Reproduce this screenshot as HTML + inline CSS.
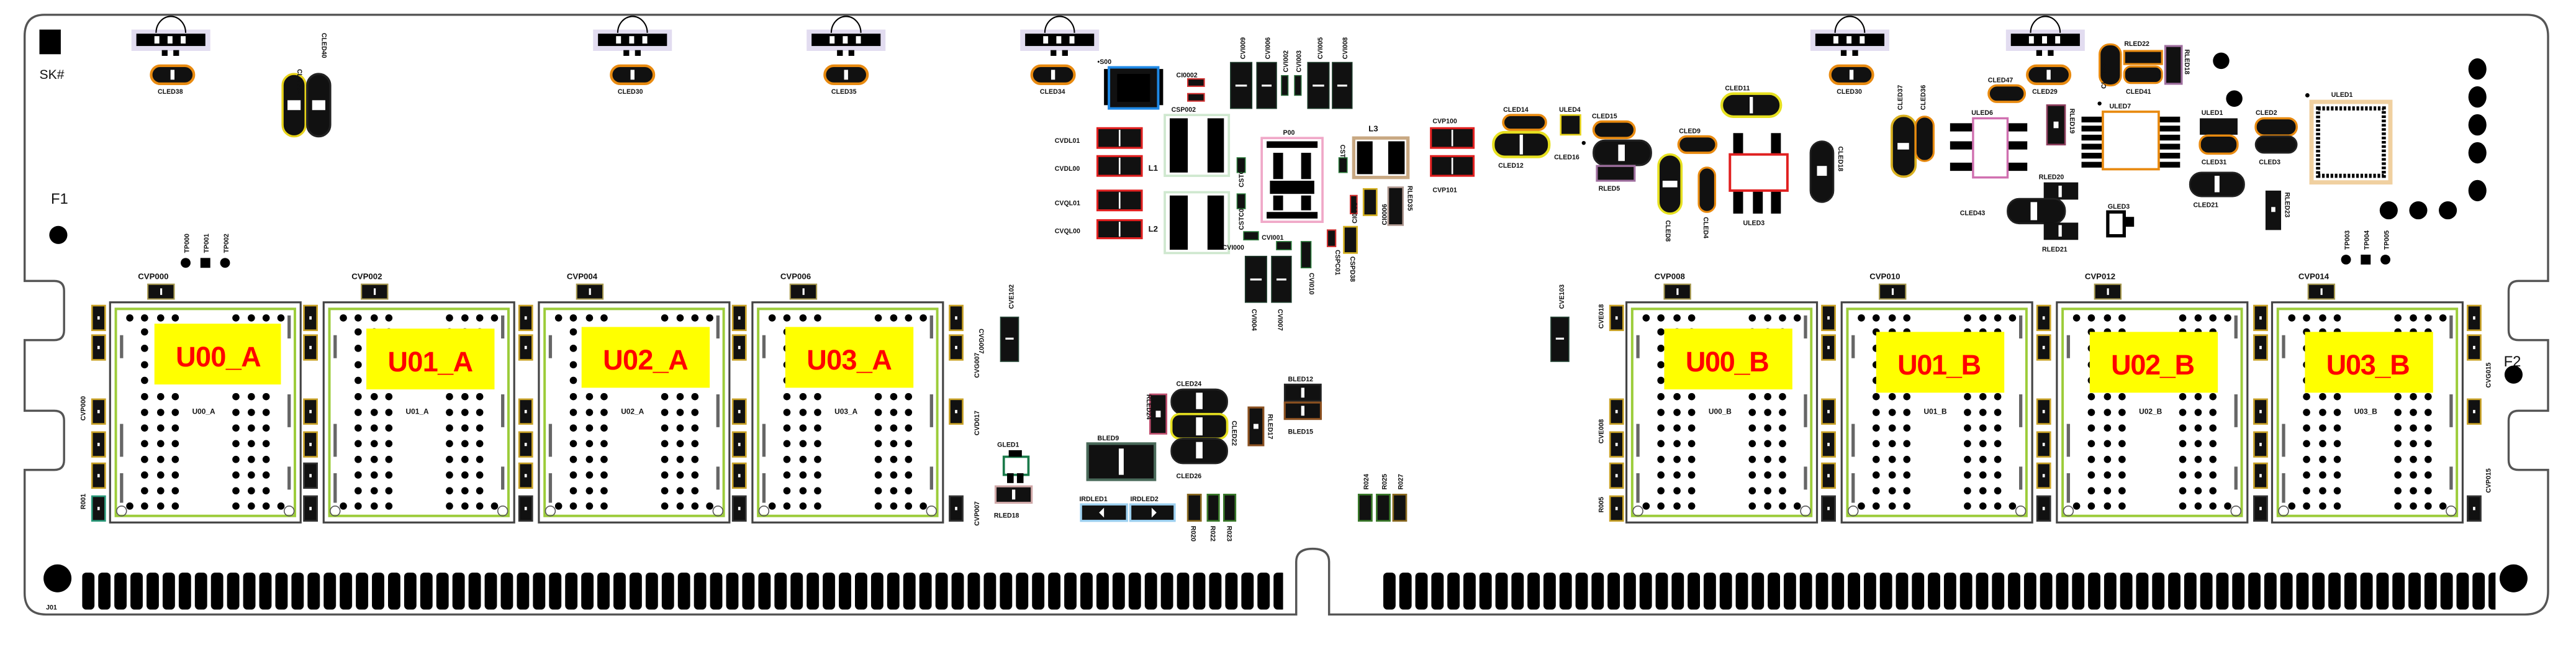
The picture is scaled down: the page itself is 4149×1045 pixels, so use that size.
<!DOCTYPE html>
<html><head><meta charset="utf-8"><style>
html,body{margin:0;padding:0;background:#fff;width:4149px;height:1045px;overflow:hidden}
svg{display:block}
text{font-family:"Liberation Sans Narrow","Liberation Sans",sans-serif;font-weight:bold;fill:#111}
.t{font-size:5px}
.s{font-size:4px}
.lb{font-size:17px;fill:#ff0000;font-family:"Liberation Sans",sans-serif;font-weight:bold}
</style></head><body>
<svg width="4149" height="1045" viewBox="0 0 1568 395" preserveAspectRatio="none" xmlns="http://www.w3.org/2000/svg">
<defs>
<pattern id="pin1" x="50" y="0" width="9.8" height="395" patternUnits="userSpaceOnUse"><rect x="0" y="348.5" width="7.5" height="22.5" rx="2.5" fill="#000"/></pattern>
<pattern id="pin2" x="842" y="0" width="9.75" height="395" patternUnits="userSpaceOnUse"><rect x="0" y="348.5" width="7.5" height="22.5" rx="2.5" fill="#000"/></pattern>
<g id="chip">
<rect x="0" y="0" width="116" height="134" fill="#fff" stroke="#444" stroke-width="1.2"/>
<rect x="3.5" y="4" width="109" height="126" fill="none" stroke="#9ccc3a" stroke-width="1.5"/>
<circle cx="7" cy="127" r="3" fill="none" stroke="#555" stroke-width=".6"/>
<circle cx="109" cy="127" r="3" fill="none" stroke="#555" stroke-width=".6"/>
<g fill="#000">
<circle cx="12" cy="9.5" r="2.2"/><circle cx="21" cy="9.5" r="2.2"/><circle cx="30.8" cy="9.5" r="2.2"/><circle cx="39.7" cy="9.5" r="2.2"/><circle cx="76.6" cy="9.5" r="2.2"/><circle cx="86" cy="9.5" r="2.2"/><circle cx="95" cy="9.5" r="2.2"/><circle cx="104" cy="9.5" r="2.2"/>
<circle cx="21" cy="18" r="2.2"/><circle cx="30.8" cy="18" r="2.2"/><circle cx="39.7" cy="18" r="2.2"/><circle cx="76.6" cy="18" r="2.2"/><circle cx="86" cy="18" r="2.2"/><circle cx="95" cy="18" r="2.2"/>
<circle cx="21" cy="28" r="2.2"/><circle cx="21" cy="38" r="2.2"/><circle cx="21" cy="47.5" r="2.2"/>
<circle cx="21" cy="57.4" r="2.2"/><circle cx="30.8" cy="57.4" r="2.2"/><circle cx="39.7" cy="57.4" r="2.2"/><circle cx="76.6" cy="57.4" r="2.2"/><circle cx="86" cy="57.4" r="2.2"/><circle cx="95" cy="57.4" r="2.2"/>
<circle cx="21" cy="67" r="2.2"/><circle cx="30.8" cy="67" r="2.2"/><circle cx="39.7" cy="67" r="2.2"/><circle cx="76.6" cy="67" r="2.2"/><circle cx="86" cy="67" r="2.2"/><circle cx="95" cy="67" r="2.2"/>
<circle cx="21" cy="76.5" r="2.2"/><circle cx="30.8" cy="76.5" r="2.2"/><circle cx="39.7" cy="76.5" r="2.2"/><circle cx="76.6" cy="76.5" r="2.2"/><circle cx="86" cy="76.5" r="2.2"/><circle cx="95" cy="76.5" r="2.2"/>
<circle cx="21" cy="86" r="2.2"/><circle cx="30.8" cy="86" r="2.2"/><circle cx="39.7" cy="86" r="2.2"/><circle cx="76.6" cy="86" r="2.2"/><circle cx="86" cy="86" r="2.2"/><circle cx="95" cy="86" r="2.2"/>
<circle cx="21" cy="95.6" r="2.2"/><circle cx="30.8" cy="95.6" r="2.2"/><circle cx="39.7" cy="95.6" r="2.2"/><circle cx="76.6" cy="95.6" r="2.2"/><circle cx="86" cy="95.6" r="2.2"/><circle cx="95" cy="95.6" r="2.2"/>
<circle cx="21" cy="105.1" r="2.2"/><circle cx="30.8" cy="105.1" r="2.2"/><circle cx="39.7" cy="105.1" r="2.2"/><circle cx="76.6" cy="105.1" r="2.2"/><circle cx="86" cy="105.1" r="2.2"/><circle cx="95" cy="105.1" r="2.2"/>
<circle cx="21" cy="114.7" r="2.2"/><circle cx="30.8" cy="114.7" r="2.2"/><circle cx="39.7" cy="114.7" r="2.2"/><circle cx="76.6" cy="114.7" r="2.2"/><circle cx="86" cy="114.7" r="2.2"/><circle cx="95" cy="114.7" r="2.2"/>
<circle cx="12" cy="124" r="2.2"/><circle cx="21" cy="124" r="2.2"/><circle cx="30.8" cy="124" r="2.2"/><circle cx="39.7" cy="124" r="2.2"/><circle cx="76.6" cy="124" r="2.2"/><circle cx="86" cy="124" r="2.2"/><circle cx="95" cy="124" r="2.2"/><circle cx="104" cy="124" r="2.2"/>
</g>
<g fill="#666"><rect x="6" y="20" width="2" height="14"/><rect x="108" y="8" width="2" height="14"/><rect x="6" y="74" width="2" height="20"/><rect x="108" y="56" width="2" height="20"/><rect x="6" y="104" width="2" height="18"/><rect x="108" y="100" width="2" height="14"/></g>
</g>
<g id="pv"><rect x="0" y="0" width="8" height="15" fill="#111" stroke="#c9a227" stroke-width="1"/><rect x="3.3" y="6.5" width="1.4" height="2" fill="#fff"/></g>
<g id="pt"><rect x="0" y="0" width="8" height="15" fill="#111" stroke="#2a9a7a" stroke-width="1"/><rect x="3.3" y="6.5" width="1.4" height="2" fill="#fff"/></g>
<g id="pk"><rect x="0" y="0" width="8" height="15" fill="#111" stroke="#333" stroke-width="1"/><rect x="3.3" y="6.5" width="1.4" height="2" fill="#fff"/></g>
<g id="ph"><rect x="0" y="0" width="16" height="9" fill="#111" stroke="#a89a50" stroke-width=".8"/><rect x="7.5" y="2.5" width="1.2" height="4" fill="#fff"/></g>
<g id="hold">
<rect x="-24" y="-10" width="48" height="13" fill="#e2dcf0"/>
<rect x="-21" y="-7.5" width="42" height="7.5" fill="#000"/>
<rect x="-10" y="-6" width="3" height="4.5" fill="#fff"/><rect x="-2" y="-6" width="3" height="4.5" fill="#fff"/><rect x="6" y="-6" width="3" height="4.5" fill="#fff"/>
<path d="M-9,-8 A9,10 0 0 1 9,-8" fill="none" stroke="#000" stroke-width=".8"/>
<rect x="-5.5" y="2.5" width="3.5" height="3.5" fill="#000"/><rect x="1.5" y="2.5" width="3.5" height="3.5" fill="#000"/>
</g>
<g id="op"><rect x="-13" y="-5.5" width="26" height="11" rx="5.5" fill="#111" stroke="#e88a10" stroke-width="1.6"/><rect x="-1.2" y="-3" width="2.4" height="6" fill="#fff"/></g>
</defs>

<path d="M27,9 H1538 Q1551,9 1551,22 V171 H1533 Q1527,171 1527,177 V201 Q1527,207 1533,207 H1551 V250 H1533 Q1527,250 1527,256 V280 Q1527,286 1533,286 H1551 V360 Q1551,374 1537,374 H809 V342 Q809,334 799,334 Q789,334 789,342 V374 H28 Q15,374 15,361 V286 H33 Q39,286 39,280 V256 Q39,250 33,250 H15 V207 H33 Q39,207 39,201 V177 Q39,171 33,171 H15 V22 Q15,9 27,9 Z" fill="#fff" stroke="#555" stroke-width="1.3"/>

<rect x="50" y="348" width="731" height="24" fill="url(#pin1)"/>
<rect x="842" y="348" width="677" height="24" fill="url(#pin2)"/>
<circle cx="35" cy="352" r="8.5" fill="#000"/>
<circle cx="1530" cy="352" r="8.5" fill="#000"/>
<text class="s" x="28" y="371">J01</text>

<rect x="24" y="18" width="13" height="15" fill="#000"/>
<text x="24" y="48" style="font-size:8px;font-weight:normal">SK#</text>
<text x="31" y="124" style="font-size:9px;font-weight:normal">F1</text>
<circle cx="35.5" cy="143" r="5.5" fill="#000"/>
<text x="1524" y="223" style="font-size:9px;font-weight:normal">F2</text>
<circle cx="1530" cy="228" r="5.5" fill="#000"/>

<use href="#hold" x="104" y="28"/><use href="#hold" x="385" y="28"/><use href="#hold" x="515" y="28"/><use href="#hold" x="645" y="28"/><use href="#hold" x="1126" y="28"/><use href="#hold" x="1245" y="28"/>
<use href="#op" x="105" y="45.5"/><text class="s" x="96" y="57">CLED38</text>
<use href="#op" x="385" y="45.5"/><text class="s" x="376" y="57">CLED30</text>
<use href="#op" x="515" y="45.5"/><text class="s" x="506" y="57">CLED35</text>
<use href="#op" x="641" y="45.5"/><text class="s" x="633" y="57">CLED34</text>
<use href="#op" x="1127" y="45.5"/><text class="s" x="1118" y="57">CLED30</text>
<use href="#op" x="1247" y="45.5"/><text class="s" x="1237" y="57">CLED29</text>

<rect x="172" y="45" width="14" height="38" rx="7" fill="#111" stroke="#e6d21a" stroke-width="1.3"/>
<rect x="175" y="61" width="8" height="6" fill="#fff"/>
<rect x="187" y="45" width="14" height="38" rx="7" fill="#111" stroke="#222" stroke-width="1.3"/>
<rect x="190" y="61" width="8" height="6" fill="#fff"/>
<text class="s" transform="translate(181,42) rotate(90)" >CLED31</text>
<text class="s" transform="translate(196,20) rotate(90)">CLED40</text>

<circle cx="113" cy="160" r="3" fill="#000"/><rect x="122" y="157" width="6" height="6" fill="#000"/><circle cx="137" cy="160" r="3" fill="#000"/>
<text class="s" transform="translate(115,154) rotate(-90)">TP000</text>
<text class="s" transform="translate(127,154) rotate(-90)">TP001</text>
<text class="s" transform="translate(139,154) rotate(-90)">TP002</text>
<circle cx="1428" cy="158" r="3" fill="#000"/><rect x="1437" y="155" width="6" height="6" fill="#000"/><circle cx="1452" cy="158" r="3" fill="#000"/>
<text class="s" transform="translate(1430,152) rotate(-90)">TP003</text>
<text class="s" transform="translate(1442,152) rotate(-90)">TP004</text>
<text class="s" transform="translate(1454,152) rotate(-90)">TP005</text>

<use href="#chip" x="67" y="184"/><use href="#chip" x="197" y="184"/><use href="#chip" x="328" y="184"/><use href="#chip" x="458" y="184"/>
<use href="#chip" x="990" y="184"/><use href="#chip" x="1121" y="184"/><use href="#chip" x="1252" y="184"/><use href="#chip" x="1383" y="184"/>

<rect x="94" y="197" width="77" height="37" fill="#ffff00"/><text class="lb" x="107" y="223" textLength="52">U00_A</text>
<rect x="223" y="200" width="78" height="37" fill="#ffff00"/><text class="lb" x="236" y="226" textLength="52">U01_A</text>
<rect x="354" y="199" width="78" height="37" fill="#ffff00"/><text class="lb" x="367" y="225" textLength="52">U02_A</text>
<rect x="478" y="199" width="78" height="37" fill="#ffff00"/><text class="lb" x="491" y="225" textLength="52">U03_A</text>
<rect x="1013" y="200" width="78" height="37" fill="#ffff00"/><text class="lb" x="1026" y="226" textLength="51">U00_B</text>
<rect x="1142" y="202" width="78" height="37" fill="#ffff00"/><text class="lb" x="1155" y="228" textLength="51">U01_B</text>
<rect x="1272" y="202" width="78" height="37" fill="#ffff00"/><text class="lb" x="1285" y="228" textLength="51">U02_B</text>
<rect x="1403" y="202" width="78" height="37" fill="#ffff00"/><text class="lb" x="1416" y="228" textLength="51">U03_B</text>

<g style="font-size:4.5px">
<text x="117" y="252">U00_A</text><text x="247" y="252">U01_A</text><text x="378" y="252">U02_A</text><text x="508" y="252">U03_A</text>
<text x="1040" y="252">U00_B</text><text x="1171" y="252">U01_B</text><text x="1302" y="252">U02_B</text><text x="1433" y="252">U03_B</text>
</g>

<use href="#ph" x="90" y="173"/><text class="t" x="84" y="170">CVP000</text>
<use href="#ph" x="220" y="173"/><text class="t" x="214" y="170">CVP002</text>
<use href="#ph" x="351" y="173"/><text class="t" x="345" y="170">CVP004</text>
<use href="#ph" x="481" y="173"/><text class="t" x="475" y="170">CVP006</text>
<use href="#ph" x="1013" y="173"/><text class="t" x="1007" y="170">CVP008</text>
<use href="#ph" x="1144" y="173"/><text class="t" x="1138" y="170">CVP010</text>
<use href="#ph" x="1275" y="173"/><text class="t" x="1269" y="170">CVP012</text>
<use href="#ph" x="1405" y="173"/><text class="t" x="1399" y="170">CVP014</text>

<g>
<use href="#pv" x="56" y="186"/><use href="#pv" x="56" y="204"/><use href="#pv" x="56" y="243"/><use href="#pv" x="56" y="263"/><use href="#pv" x="56" y="282"/><use href="#pt" x="56" y="302"/>
<use href="#pv" x="185" y="186"/><use href="#pv" x="185" y="204"/><use href="#pv" x="185" y="243"/><use href="#pv" x="185" y="263"/><use href="#pk" x="185" y="282"/><use href="#pk" x="185" y="302"/>
<use href="#pv" x="316" y="186"/><use href="#pv" x="316" y="204"/><use href="#pv" x="316" y="243"/><use href="#pv" x="316" y="263"/><use href="#pv" x="316" y="282"/><use href="#pk" x="316" y="302"/>
<use href="#pv" x="446" y="186"/><use href="#pv" x="446" y="204"/><use href="#pv" x="446" y="243"/><use href="#pv" x="446" y="263"/><use href="#pv" x="446" y="282"/><use href="#pk" x="446" y="302"/>
<use href="#pv" x="578" y="186"/><use href="#pv" x="578" y="204"/><use href="#pv" x="578" y="243"/><use href="#pk" x="578" y="302"/>
<use href="#pv" x="980" y="186"/><use href="#pv" x="980" y="243"/><use href="#pv" x="980" y="263"/><use href="#pv" x="980" y="282"/><use href="#pv" x="980" y="302"/>
<use href="#pv" x="1109" y="186"/><use href="#pv" x="1109" y="204"/><use href="#pv" x="1109" y="243"/><use href="#pv" x="1109" y="263"/><use href="#pv" x="1109" y="282"/><use href="#pk" x="1109" y="302"/>
<use href="#pv" x="1240" y="186"/><use href="#pv" x="1240" y="204"/><use href="#pv" x="1240" y="243"/><use href="#pv" x="1240" y="263"/><use href="#pv" x="1240" y="282"/><use href="#pk" x="1240" y="302"/>
<use href="#pv" x="1372" y="186"/><use href="#pv" x="1372" y="204"/><use href="#pv" x="1372" y="243"/><use href="#pv" x="1372" y="263"/><use href="#pv" x="1372" y="282"/><use href="#pk" x="1372" y="302"/>
<use href="#pv" x="1502" y="186"/><use href="#pv" x="1502" y="204"/><use href="#pv" x="1502" y="243"/><use href="#pk" x="1502" y="302"/>
</g>
<g class="s">
<text transform="translate(52,256) rotate(-90)">CVP000</text>
<text transform="translate(52,310) rotate(-90)">R001</text>
<text transform="translate(596,200) rotate(90)">CVG007</text>
<text transform="translate(596,230) rotate(-90)">CVG007</text>
<text transform="translate(596,265) rotate(-90)">CVD017</text>
<text transform="translate(596,320) rotate(-90)">CVP007</text>
<text transform="translate(976,200) rotate(-90)">CVE018</text>
<text transform="translate(976,270) rotate(-90)">CVE008</text>
<text transform="translate(976,312) rotate(-90)">R005</text>
<text transform="translate(1516,236) rotate(-90)">CVG015</text>
<text transform="translate(1516,300) rotate(-90)">CVP015</text>
</g>

<rect x="609" y="193" width="11" height="27" fill="#111" stroke="#2a4a3a" stroke-width=".6"/><rect x="612" y="205.5" width="5" height="1.2" fill="#fff"/>
<text class="s" transform="translate(617,188) rotate(-90)">CVE102</text>
<rect x="944" y="193" width="11" height="27" fill="#111" stroke="#2a4a3a" stroke-width=".6"/><rect x="947" y="205.5" width="5" height="1.2" fill="#fff"/>
<text class="s" transform="translate(952,188) rotate(-90)">CVE103</text>

<text class="s" x="668" y="39">•S00</text>
<rect x="672" y="42" width="3" height="22" fill="#000"/><rect x="705" y="42" width="3" height="22" fill="#000"/>
<rect x="675" y="41" width="30" height="25" fill="#111" stroke="#1e88e5" stroke-width="1.5"/>
<rect x="680" y="45" width="20" height="17" fill="#000"/>
<text class="s" x="716" y="47">CI0002</text>
<rect x="723" y="48" width="10" height="4.5" fill="#111" stroke="#d03030" stroke-width=".8"/>
<rect x="723" y="57" width="10" height="4.5" fill="#111" stroke="#d03030" stroke-width=".8"/>
<text class="s" x="713" y="68">CSP002</text>

<g fill="#111" stroke="#1d3a2a" stroke-width=".6">
<rect x="749" y="38" width="13" height="28"/><rect x="765" y="38" width="12" height="28"/><rect x="796" y="38" width="13" height="28"/><rect x="811" y="38" width="12" height="28"/>
<rect x="780" y="46" width="4" height="12" stroke="#2a6a3a"/><rect x="788" y="46" width="4" height="12" stroke="#2a6a3a"/>
<rect x="758" y="156" width="13" height="28"/><rect x="774" y="156" width="12" height="28"/>
</g>
<g fill="#fff"><rect x="752" y="51.5" width="7" height="1.2"/><rect x="768" y="51.5" width="6" height="1.2"/><rect x="799" y="51.5" width="7" height="1.2"/><rect x="814" y="51.5" width="6" height="1.2"/><rect x="761" y="169.5" width="7" height="1.2"/><rect x="777" y="169.5" width="6" height="1.2"/></g>
<g class="s">
<text transform="translate(758,36) rotate(-90)">CVI009</text>
<text transform="translate(773,36) rotate(-90)">CVI006</text>
<text transform="translate(784,44) rotate(-90)">CVI002</text>
<text transform="translate(792,44) rotate(-90)">CVI003</text>
<text transform="translate(805,36) rotate(-90)">CVI005</text>
<text transform="translate(820,36) rotate(-90)">CVI008</text>
<text transform="translate(762,188) rotate(90)">CVI004</text>
<text transform="translate(778,188) rotate(90)">CVI007</text>
<text transform="translate(797,166) rotate(90)">CVI010</text>
<text transform="translate(813,152) rotate(90)">CSPC01</text>
<text transform="translate(822,156) rotate(90)">CSPD38</text>
</g>

<rect x="709" y="70" width="39" height="37" fill="#fff" stroke="#cfe8cf" stroke-width="1.4"/>
<rect x="712" y="72" width="11" height="33" fill="#000"/><rect x="735" y="72" width="10" height="33" fill="#000"/>
<rect x="709" y="117" width="39" height="37" fill="#fff" stroke="#cfe8cf" stroke-width="1.4"/>
<rect x="712" y="119" width="11" height="33" fill="#000"/><rect x="735" y="119" width="10" height="33" fill="#000"/>
<text class="t" x="699" y="104">L1</text><text class="t" x="699" y="141">L2</text>

<g fill="#111" stroke="#e02020" stroke-width="1.2">
<rect x="668" y="78" width="27" height="12"/><rect x="668" y="95" width="27" height="12"/><rect x="668" y="116" width="27" height="12"/><rect x="668" y="134" width="27" height="11"/>
<rect x="871" y="78" width="26" height="12"/><rect x="871" y="95" width="26" height="12"/>
</g>
<g fill="#fff"><rect x="681" y="79" width="1" height="10"/><rect x="681" y="96" width="1" height="10"/><rect x="681" y="117" width="1" height="10"/><rect x="681" y="135" width="1" height="9"/><rect x="883.5" y="79" width="1" height="10"/><rect x="883.5" y="96" width="1" height="10"/></g>
<g class="s"><text x="642" y="87">CVDL01</text><text x="642" y="104">CVDL00</text><text x="642" y="125">CVQL01</text><text x="642" y="142">CVQL00</text>
<text x="872" y="75">CVP100</text><text x="872" y="117">CVP101</text></g>

<text class="s" x="781" y="82">P00</text>
<rect x="768" y="84" width="37" height="51" fill="#fff" stroke="#f0a8c8" stroke-width="1.4"/>
<g fill="#000">
<rect x="771" y="86" width="31" height="4"/><rect x="771" y="129" width="31" height="4"/>
<rect x="775" y="93" width="6" height="16"/><rect x="792" y="93" width="6" height="16"/>
<rect x="773" y="110" width="27" height="8"/>
<rect x="775" y="119" width="6" height="9"/><rect x="792" y="119" width="6" height="9"/>
</g>
<g fill="#111" stroke="#2a7a3a" stroke-width=".6"><rect x="753" y="96" width="5" height="9"/><rect x="753" y="118" width="5" height="9"/><rect x="815" y="96" width="5" height="9"/><rect x="757" y="141" width="9" height="5"/><rect x="777" y="147" width="9" height="5"/><rect x="792" y="147" width="6" height="16"/></g>
<text class="s" transform="translate(757,114) rotate(-90)">CSTC00</text>
<text class="s" transform="translate(757,140) rotate(-90)">CSTC01</text>
<text class="s" transform="translate(816,88) rotate(90)">CSTC02</text>
<text class="s" x="768" y="146">CVI001</text>
<text class="s" x="744" y="152">CVI000</text>

<text class="t" x="833" y="80">L3</text>
<rect x="824" y="84" width="33" height="24" fill="#fff" stroke="#c8a882" stroke-width="2"/>
<rect x="826" y="86" width="9.5" height="20" fill="#000"/><rect x="845" y="86" width="10" height="20" fill="#000"/>
<rect x="822" y="119" width="4" height="11" fill="#111" stroke="#d03030" stroke-width=".8"/>
<rect x="830" y="115" width="8" height="16" fill="#111" stroke="#d4b020" stroke-width="1"/>
<rect x="845" y="114" width="9" height="23" fill="#111" stroke="#b09890" stroke-width="1"/>
<rect x="808" y="140" width="5" height="10" fill="#111" stroke="#d03030" stroke-width=".8"/>
<rect x="818" y="138" width="8" height="16" fill="#111" stroke="#d4b020" stroke-width="1"/>
<text class="s" transform="translate(826,136) rotate(-90)">CI0003</text>
<text class="s" transform="translate(844,137) rotate(-90)">CI0006</text>
<text class="s" transform="translate(857,113) rotate(90)">RLED35</text>

<rect x="915" y="70" width="26" height="9" rx="4.5" fill="#111" stroke="#e88a10" stroke-width="1.4"/>
<rect x="909" y="80.5" width="34" height="15" rx="7" fill="#111" stroke="#e6e020" stroke-width="1.6"/><rect x="925" y="82" width="2" height="12" fill="#fff"/>
<rect x="950" y="70" width="12" height="12" fill="#111" stroke="#e6d21a" stroke-width="1"/>
<circle cx="964" cy="87" r="1.2" fill="#000"/>
<rect x="970" y="74" width="25" height="10" rx="5" fill="#111" stroke="#e88a10" stroke-width="1.4"/>
<rect x="970" y="85.5" width="35" height="15" rx="7" fill="#111" stroke="#222" stroke-width="1.2"/><rect x="985" y="88" width="4" height="10" fill="#fff"/>
<rect x="972" y="101" width="23" height="9" fill="#111" stroke="#a070a0" stroke-width="1.2"/>
<rect x="1009.5" y="94" width="14" height="36" rx="7" fill="#111" stroke="#e6e020" stroke-width="1.4"/><rect x="1012" y="110" width="9" height="4" fill="#fff"/>
<rect x="1021.7" y="83" width="23" height="10" rx="5" fill="#111" stroke="#e88a10" stroke-width="1.4"/>
<rect x="1034" y="102" width="10" height="27" rx="5" fill="#111" stroke="#e88a10" stroke-width="1.2"/>
<rect x="1048" y="57" width="36" height="14" rx="7" fill="#111" stroke="#e6e020" stroke-width="1.6"/><rect x="1065" y="59" width="2" height="10" fill="#fff"/>
<g fill="#000"><rect x="1055" y="81" width="6" height="14"/><rect x="1078" y="81" width="6" height="14"/><rect x="1055" y="115" width="6" height="15"/><rect x="1067" y="115" width="6" height="15"/><rect x="1078" y="115" width="6" height="15"/></g>
<rect x="1053" y="94" width="35" height="22" fill="#fff" stroke="#e02020" stroke-width="1.5"/>
<rect x="1102" y="86" width="14" height="37" rx="7" fill="#111" stroke="#222" stroke-width="1"/><rect x="1106" y="101" width="6" height="6" fill="#fff"/>
<g class="s">
<text x="915" y="68">CLED14</text><text x="949" y="68">ULED4</text><text x="969" y="72">CLED15</text><text x="946" y="97">CLED16</text><text x="912" y="102">CLED12</text><text x="973" y="116">RLED5</text><text x="1022" y="81">CLED9</text><text x="1050" y="55">CLED11</text><text x="1061" y="137">ULED3</text>
<text transform="translate(1014,134) rotate(90)">CLED8</text><text transform="translate(1037,132) rotate(90)">CLED4</text><text transform="translate(1119,89) rotate(90)">CLED18</text>
<text transform="translate(1158,67) rotate(-90)">CLED37</text><text transform="translate(1172,67) rotate(-90)">CLED36</text>
</g>
<rect x="1151.5" y="70.5" width="14.5" height="37" rx="7" fill="#111" stroke="#d8b020" stroke-width="1.4"/><rect x="1155" y="87" width="7" height="4" fill="#fff"/>
<rect x="1166" y="71" width="11" height="27" rx="5.5" fill="#111" stroke="#e88a10" stroke-width="1.2"/>

<g fill="#000"><rect x="1187" y="75" width="47" height="5"/><rect x="1187" y="86" width="47" height="5"/><rect x="1187" y="99" width="47" height="5"/></g>
<rect x="1201" y="72" width="21" height="36" fill="#fff" stroke="#d070b0" stroke-width="1.3"/>
<text class="s" x="1200" y="70">ULED6</text>
<rect x="1246" y="64" width="11" height="24" fill="#111" stroke="#904060" stroke-width="1"/><rect x="1250" y="74" width="3" height="4" fill="#fff"/>
<text class="s" transform="translate(1260,66) rotate(90)">RLED19</text>
<g fill="#000"><rect x="1267" y="71" width="60" height="3.5"/><rect x="1267" y="76.5" width="60" height="3.5"/><rect x="1267" y="82" width="60" height="3.5"/><rect x="1267" y="87.5" width="60" height="3.5"/><rect x="1267" y="93" width="60" height="3.5"/><rect x="1267" y="98.5" width="60" height="3.5"/></g>
<rect x="1280" y="68" width="34" height="35" fill="#fff" stroke="#e88a10" stroke-width="1.4"/>
<circle cx="1278" cy="63" r="1.2" fill="#000"/><text class="s" x="1284" y="66">ULED7</text>
<rect x="1210.5" y="52" width="22" height="10" rx="5" fill="#111" stroke="#e88a10" stroke-width="1.4"/><text class="s" x="1210" y="50">CLED47</text>
<rect x="1278" y="27" width="13" height="25" rx="6" fill="#111" stroke="#e88a10" stroke-width="1.2"/>
<text class="s" transform="translate(1282,54) rotate(-90)">CLED45</text>
<rect x="1293" y="31" width="23" height="8" fill="#111" stroke="#e88a10" stroke-width="1.2"/>
<rect x="1293" y="40.5" width="23" height="10" rx="4" fill="#111" stroke="#e88a10" stroke-width="1.2"/>
<text class="s" x="1293" y="28">RLED22</text><text class="s" x="1294" y="57">CLED41</text>
<rect x="1318" y="28" width="10" height="23" fill="#111" stroke="#a070a0" stroke-width="1.2"/>
<text class="s" transform="translate(1330,30) rotate(90)">RLED18</text>
<circle cx="1352" cy="37" r="5" fill="#000"/><circle cx="1360" cy="60" r="5" fill="#000"/>

<text class="s" x="1340" y="70">ULED1</text>
<rect x="1339" y="72" width="23" height="10" fill="#111"/>
<rect x="1339" y="82.5" width="23" height="11" rx="5" fill="#111" stroke="#e88a10" stroke-width="1.3"/>
<text class="s" x="1340" y="100">CLED31</text>
<text class="s" x="1373" y="70">CLED2</text>
<rect x="1373" y="72" width="25" height="10.5" rx="5" fill="#111" stroke="#e88a10" stroke-width="1.3"/>
<rect x="1373" y="83" width="25" height="10" rx="5" fill="#111" stroke="#222" stroke-width="1"/>
<text class="s" x="1375" y="100">CLED3</text>
<rect x="1333" y="105" width="33" height="14.5" rx="7" fill="#111" stroke="#222" stroke-width="1"/><rect x="1348" y="107" width="3" height="10" fill="#fff"/>
<text class="s" x="1335" y="126">CLED21</text>
<rect x="1379" y="116" width="9.5" height="24" fill="#111"/><rect x="1382.5" y="126" width="2.5" height="3" fill="#fff"/>
<text class="s" transform="translate(1391,117) rotate(90)">RLED23</text>
<text class="s" x="1241" y="109">RLED20</text>
<rect x="1244" y="111" width="21" height="10.5" fill="#111"/><rect x="1253" y="113" width="2" height="7" fill="#fff"/>
<rect x="1222" y="121" width="35" height="15" rx="7" fill="#111" stroke="#222" stroke-width="1"/><rect x="1236" y="123" width="4" height="11" fill="#fff"/>
<rect x="1244" y="135.5" width="21" height="10.5" fill="#111"/><rect x="1253" y="137" width="2" height="7" fill="#fff"/>
<text class="s" x="1193" y="131">CLED43</text><text class="s" x="1243" y="153">RLED21</text>
<text class="s" x="1283" y="127">GLED3</text>
<rect x="1283" y="129" width="10" height="14.5" fill="#fff" stroke="#000" stroke-width="2"/><rect x="1293" y="132" width="6" height="6" fill="#000"/>
<text class="s" x="1419" y="59">ULED1</text>
<circle cx="1404.5" cy="58" r="1.3" fill="#000"/>
<rect x="1407" y="62" width="48" height="49" fill="#fff" stroke="#f0d0a0" stroke-width="2.6"/>
<rect x="1411" y="66" width="40" height="41" fill="none" stroke="#000" stroke-width="2.5" stroke-dasharray="1.6,1"/>
<ellipse cx="1508" cy="42" rx="5.5" ry="6.5" fill="#000"/><ellipse cx="1508" cy="59" rx="5.5" ry="6.5" fill="#000"/><ellipse cx="1508" cy="76" rx="5.5" ry="6.5" fill="#000"/><ellipse cx="1508" cy="93" rx="5.5" ry="6.5" fill="#000"/><ellipse cx="1508" cy="116" rx="5.5" ry="6.5" fill="#000"/>
<circle cx="1454" cy="128" r="5.5" fill="#000"/><circle cx="1472" cy="128" r="5.5" fill="#000"/><circle cx="1490" cy="128" r="5.5" fill="#000"/>

<text class="s" x="607" y="272">GLED1</text>
<rect x="611" y="278" width="15" height="11" fill="#fff" stroke="#1a7a4a" stroke-width="1.4"/>
<rect x="614" y="274" width="8" height="4" fill="#000"/><rect x="613" y="288" width="4" height="6" fill="#000"/><rect x="619" y="288" width="4" height="6" fill="#000"/>
<rect x="606" y="296" width="22" height="10" fill="#111" stroke="#d0a8a8" stroke-width="1.2"/><rect x="616" y="298" width="2" height="6" fill="#fff"/>
<text class="s" x="605" y="315">RLED18</text>
<text class="s" x="668" y="268">BLED9</text>
<rect x="662" y="270" width="41" height="22" fill="#111" stroke="#4a6a5a" stroke-width="1.6"/><rect x="681" y="273" width="3" height="16" fill="#fff"/>
<text class="s" x="657" y="305">IRDLED1</text><text class="s" x="688" y="305">IRDLED2</text>
<rect x="658" y="307" width="28" height="10" fill="#111" stroke="#9dd0f0" stroke-width="1.3"/><rect x="688" y="307" width="27" height="10" fill="#111" stroke="#9dd0f0" stroke-width="1.3"/>
<path d="M672,309 L669,312 L672,315 Z M701,309 L704,312 L701,315 Z" fill="#fff"/>
<text class="s" x="716" y="235">CLED24</text>
<rect x="713" y="237" width="34" height="15" rx="7" fill="#111" stroke="#222" stroke-width="1"/><rect x="728" y="239" width="4" height="10" fill="#fff"/>
<rect x="713" y="252" width="34" height="15" rx="5" fill="#111" stroke="#e6e020" stroke-width="1.4"/><rect x="728" y="254" width="4" height="11" fill="#fff"/>
<rect x="713" y="267" width="34" height="15" rx="7" fill="#111" stroke="#222" stroke-width="1"/><rect x="728" y="269" width="4" height="10" fill="#fff"/>
<text class="s" x="716" y="291">CLED26</text>
<text class="s" transform="translate(750,256) rotate(90)">CLED22</text>
<rect x="700" y="240" width="10" height="24" fill="#111" stroke="#c05070" stroke-width="1"/><rect x="703.5" y="250" width="3" height="4" fill="#fff"/>
<text class="s" transform="translate(698,240) rotate(90)">RLED24</text>
<rect x="760" y="248" width="9" height="23" fill="#111" stroke="#8a5020" stroke-width="1.2"/><rect x="763" y="258" width="3" height="3" fill="#fff"/>
<text class="s" transform="translate(772,252) rotate(90)">RLED17</text>
<text class="s" x="784" y="232">BLED12</text>
<rect x="782" y="234" width="22" height="10" fill="#111" stroke="#222" stroke-width="1"/><rect x="792" y="236" width="2" height="6" fill="#fff"/>
<rect x="782" y="245" width="22" height="10" fill="#111" stroke="#8a5020" stroke-width="1.2"/><rect x="792" y="247" width="2" height="6" fill="#fff"/>
<text class="s" x="784" y="264">BLED15</text>
<g fill="#111" stroke-width="1">
<rect x="723" y="301" width="8" height="16" stroke="#8a6a20"/><rect x="735" y="301" width="7" height="16" stroke="#3a7a2a"/><rect x="745" y="301" width="7" height="16" stroke="#3a7a2a"/>
<rect x="827" y="301" width="8" height="16" stroke="#3a7a2a"/><rect x="838" y="301" width="8" height="16" stroke="#3a7a2a"/><rect x="848" y="301" width="8" height="16" stroke="#8a6a20"/>
</g>
<g class="s">
<text transform="translate(725,320) rotate(90)">R020</text><text transform="translate(737,320) rotate(90)">R022</text><text transform="translate(747,320) rotate(90)">R023</text>
<text transform="translate(833,298) rotate(-90)">R024</text><text transform="translate(844,298) rotate(-90)">R025</text><text transform="translate(854,298) rotate(-90)">R027</text>
</g>
</svg>
</body></html>
